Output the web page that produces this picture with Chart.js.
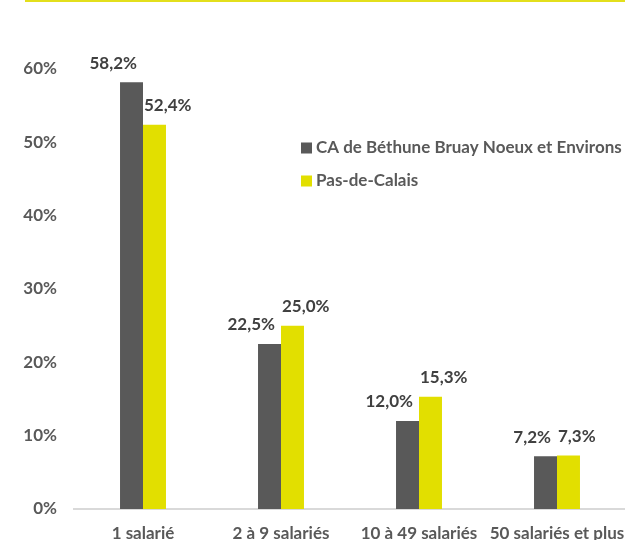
<!DOCTYPE html>
<html>
<head>
<meta charset="utf-8">
<script src="https://cdn.jsdelivr.net/npm/chart.js@4"></script>
<style>
  html, body { margin: 0; padding: 0; background: #fff; overflow: hidden; width: 625px; height: 540px; }
  #topline { position: absolute; left: 25px; top: 0; width: 600px; height: 2px; background: #e3df1c; }
  #wrap { position: absolute; left: 0; top: 0; width: 660px; height: 540px; }
</style>
</head>
<body>
<div id="topline"></div>
<div id="wrap"><canvas id="c" width="660" height="540"></canvas></div>
<script>
const categories = ['1 salarié', '2 à 9 salariés', '10 à 49 salariés', '50 salariés et plus'];
const seriesNames = ['CA de Béthune Bruay Noeux et Environs', 'Pas-de-Calais'];
const caBethune = [58.2, 22.5, 12.0, 7.2];
const pasDeCalais = [52.4, 25.0, 15.3, 7.3];
const yTicks = [0, 10, 20, 30, 40, 50, 60];

const FONT = 'Lato';
const FSIZE = 17;
const fmt = v => v.toFixed(1).replace('.', ',') + '%';

const labelPlugin = {
  id: 'valueLabels',
  afterDatasetsDraw(chart) {
    const ctx = chart.ctx;
    ctx.save();
    ctx.font = 'bold ' + FSIZE + 'px ' + FONT;
    ctx.fillStyle = '#404040';
    ctx.textBaseline = 'middle';
    chart.data.datasets.forEach((ds, di) => {
      const meta = chart.getDatasetMeta(di);
      meta.data.forEach((bar, i) => {
        const t = fmt(ds.data[i]);
        if (di === 0) {
          ctx.textAlign = 'right';
          ctx.fillText(t, bar.x + bar.width / 2 - 6, bar.y - 19);
        } else {
          ctx.textAlign = 'left';
          ctx.fillText(t, bar.x - bar.width / 2 + 1, bar.y - 19);
        }
      });
    });
    ctx.restore();
  }
};

const legendPlugin = {
  id: 'customLegend',
  afterDraw(chart) {
    const ctx = chart.ctx;
    ctx.save();
    ctx.font = 'bold ' + FSIZE + 'px ' + FONT;
    ctx.textBaseline = 'middle';
    ctx.textAlign = 'left';
    chart.data.datasets.forEach((ds, di) => {
      const cy = 148 + di * 33;
      ctx.fillStyle = ds.backgroundColor;
      ctx.fillRect(301, cy - 5.5, 11, 11);
      ctx.fillStyle = '#595959';
      ctx.fillText(ds.label, 316, cy);
    });
    ctx.restore();
  }
};

new Chart(document.getElementById('c'), {
  type: 'bar',
  data: {
    labels: categories,
    datasets: [
      { label: seriesNames[0], data: caBethune, backgroundColor: '#595959' },
      { label: seriesNames[1], data: pasDeCalais, backgroundColor: '#e2df00' }
    ]
  },
  options: {
    responsive: false,
    animation: false,
    events: [],
    layout: { padding: { top: 69, left: 0, right: 34, bottom: 0 } },
    datasets: { bar: { categoryPercentage: 0.333, barPercentage: 1.0 } },
    plugins: { legend: { display: false }, tooltip: { enabled: false } },
    scales: {
      x: {
        grid: { display: false, drawTicks: false, tickLength: 0 },
        border: { display: true, color: '#d9d9d9', width: 2 },
        ticks: { color: '#595959', font: { family: FONT, size: FSIZE, weight: 'bold' }, padding: 14, maxRotation: 0, autoSkip: false },
        afterFit(s) { s.height = 31; }
      },
      y: {
        min: 0, max: 60,
        afterBuildTicks(s) { s.ticks = yTicks.map(v => ({ value: v })); },
        grid: { display: false, drawTicks: false, tickLength: 0 },
        border: { display: false },
        ticks: { color: '#595959', font: { family: FONT, size: FSIZE, weight: 'bold' }, padding: 17, callback: v => v + '%' },
        afterFit(s) { s.width = 74; }
      }
    }
  },
  plugins: [labelPlugin, legendPlugin]
});
</script>
</body>
</html>
